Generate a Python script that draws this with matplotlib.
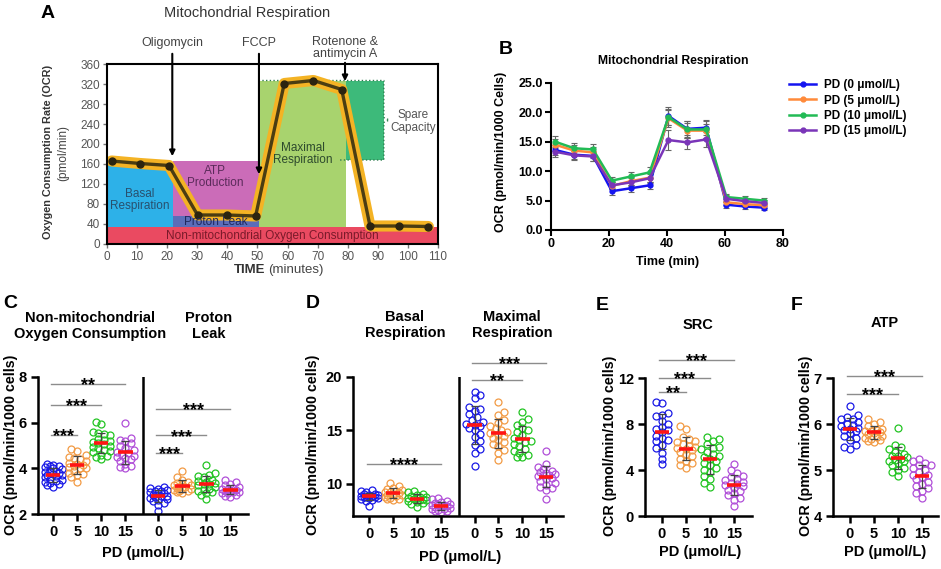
import numpy as np
import matplotlib
matplotlib.use('Agg')
import matplotlib.pyplot as plt
from matplotlib.patches import Rectangle

plt.rcParams['font.family'] = ['Liberation Sans', 'DejaVu Sans']

W, H = 941, 569
fig = plt.figure(figsize=(W / 100, H / 100), dpi=100)

# ---------------- data ----------------
# Panel A (schematic trace)
a_time = [1.5, 11, 20.6, 30.1, 39.8, 49.4, 58.9, 68.6, 78, 87.4, 97.1, 106.8]
a_ocr = [166, 161, 157, 58, 58, 56, 321, 327, 309, 36, 36, 35]

# Panel B
b_time = [1.5, 8, 14.5, 21, 27.5, 34, 40.5, 47, 53.5, 60.5, 67, 73.5]
b_labels = ['PD (0 μmol/L)', 'PD (5 μmol/L)', 'PD (10 μmol/L)', 'PD (15 μmol/L)']
b_pd0 = [13.6, 12.8, 12.6, 6.6, 7.1, 7.6, 19.4, 17.2, 17.4, 4.3, 4.0, 3.8]
b_pd5 = [14.5, 13.5, 13.2, 7.5, 8.3, 8.9, 19.0, 16.9, 16.9, 4.7, 4.4, 4.2]
b_pd10 = [15.0, 13.9, 13.7, 8.4, 9.1, 9.8, 19.2, 17.1, 17.1, 5.6, 5.3, 5.0]
b_pd15 = [13.3, 12.7, 12.5, 7.6, 8.1, 8.8, 15.3, 14.9, 15.4, 5.3, 4.9, 4.6]
b_err0 = [0.9, 0.8, 0.8, 0.6, 0.6, 0.6, 1.5, 1.3, 1.3, 0.5, 0.4, 0.4]
b_err5 = [1.0, 0.9, 0.9, 0.6, 0.7, 0.8, 1.4, 1.3, 1.2, 0.5, 0.4, 0.4]
b_err10 = [1.0, 0.9, 0.9, 0.6, 0.8, 0.9, 1.4, 1.4, 1.5, 0.6, 0.5, 0.5]
b_err15 = [0.9, 0.8, 0.8, 0.6, 0.7, 0.8, 1.7, 1.2, 1.3, 0.6, 0.5, 0.5]

dose_labels = ['0', '5', '10', '15']

# Panel C
c_nonmito_0 = [4.2, 4.15, 4.1, 4.1, 4.05, 4.0, 3.95, 3.9, 3.85, 3.8, 3.75, 3.7, 3.65, 3.6, 3.55, 3.5, 3.45, 3.4, 3.35, 3.3, 3.25, 3.2, 3.9, 3.7]
c_nonmito_5 = [4.85, 4.75, 4.6, 4.5, 4.4, 4.3, 4.25, 4.2, 4.15, 4.1, 4.05, 4.0, 3.9, 3.8, 3.75, 3.7, 3.6, 3.4, 4.45, 4.0]
c_nonmito_10 = [6.05, 5.95, 5.6, 5.5, 5.45, 5.3, 5.2, 5.15, 5.1, 5.05, 5.0, 4.95, 4.9, 4.8, 4.75, 4.7, 4.6, 4.55, 4.5, 4.4, 5.25, 5.55]
c_nonmito_15 = [6.0, 5.35, 5.25, 5.2, 5.0, 4.9, 4.8, 4.7, 4.65, 4.55, 4.5, 4.45, 4.4, 4.3, 4.2, 4.1, 4.05, 4.0, 4.6, 5.1]
c_leak_0 = [3.2, 3.15, 3.1, 3.05, 3.0, 2.95, 2.9, 2.9, 2.85, 2.8, 2.8, 2.75, 2.7, 2.65, 2.6, 2.55, 2.5, 2.4, 2.15, 3.0]
c_leak_5 = [3.9, 3.6, 3.5, 3.4, 3.35, 3.3, 3.25, 3.2, 3.2, 3.15, 3.1, 3.05, 3.0, 3.0, 2.95, 2.9, 3.1, 3.25]
c_leak_10 = [4.15, 3.8, 3.7, 3.65, 3.6, 3.5, 3.4, 3.35, 3.3, 3.25, 3.2, 3.1, 3.05, 3.0, 2.95, 2.9, 2.85, 2.65, 3.45, 3.3]
c_leak_15 = [3.5, 3.4, 3.3, 3.2, 3.15, 3.1, 3.05, 3.0, 3.0, 2.95, 2.9, 2.85, 2.8, 2.75, 3.1, 2.95, 3.25, 2.9]
c_sig = [(0, 1, 5.47, '***'), (0, 2, 6.76, '***'), (0, 3, 7.7, '**'),
         (4.37, 5.37, 4.69, '***'), (4.37, 6.37, 5.44, '***'), (4.37, 7.37, 6.61, '***')]

# Panel D
d_basal_0 = [9.4, 9.3, 9.2, 9.1, 9.0, 8.95, 8.9, 8.85, 8.8, 8.75, 8.7, 8.65, 8.6, 8.5, 8.4, 7.9, 9.05, 8.8]
d_basal_5 = [10.1, 9.8, 9.6, 9.5, 9.4, 9.3, 9.2, 9.15, 9.1, 9.0, 8.9, 8.8, 8.7, 8.6, 8.55, 8.5, 9.25, 9.0]
d_basal_10 = [9.3, 9.2, 9.1, 9.0, 8.9, 8.8, 8.7, 8.65, 8.6, 8.5, 8.45, 8.4, 8.3, 8.2, 8.1, 7.8, 8.6, 8.75]
d_basal_15 = [8.7, 8.55, 8.4, 8.3, 8.2, 8.1, 8.05, 8.0, 7.95, 7.9, 7.8, 7.75, 7.7, 7.65, 7.6, 7.5, 7.45, 7.4, 8.0]
d_max_0 = [18.6, 18.3, 18.0, 17.2, 17.0, 16.8, 16.3, 16.0, 15.8, 15.6, 15.4, 15.2, 15.0, 14.7, 14.4, 14.0, 13.6, 13.3, 12.9, 11.7, 16.5, 15.5]
d_max_5 = [17.7, 16.7, 16.4, 16.0, 15.7, 15.4, 15.2, 15.0, 14.8, 14.6, 14.5, 14.3, 14.1, 13.9, 13.7, 13.5, 13.2, 12.9, 12.2, 14.9]
d_max_10 = [16.7, 16.1, 15.8, 15.5, 15.2, 14.9, 14.6, 14.3, 14.1, 13.9, 13.7, 13.5, 13.3, 13.1, 12.9, 12.7, 12.5, 12.5, 14.0, 15.0]
d_max_15 = [13.1, 11.9, 11.6, 11.4, 11.2, 11.0, 10.9, 10.8, 10.7, 10.6, 10.5, 10.3, 10.1, 9.9, 9.7, 9.6, 9.4, 8.6, 10.8, 11.1]
d_sig = [(0, 3, 11.88, '****'), (4.4, 6.4, 19.69, '**'), (4.4, 7.4, 21.35, '***')]

# Panel E (SRC)
e_src_0 = [9.9, 9.8, 9.0, 8.8, 8.7, 8.3, 8.0, 7.7, 7.5, 7.3, 7.0, 6.8, 6.6, 6.5, 6.2, 5.9, 5.5, 5.0, 4.5, 7.6]
e_src_5 = [7.8, 7.6, 6.9, 6.7, 6.5, 6.3, 6.1, 6.0, 5.9, 5.8, 5.6, 5.4, 5.2, 5.0, 4.8, 4.6, 4.4, 4.2, 5.7, 6.4]
e_src_10 = [6.9, 6.7, 6.5, 6.3, 6.0, 5.8, 5.6, 5.4, 5.2, 5.0, 4.8, 4.6, 4.4, 4.2, 4.0, 3.8, 3.5, 3.2, 2.9, 2.5, 5.1, 5.9]
e_src_15 = [4.5, 4.0, 3.7, 3.5, 3.4, 3.2, 3.1, 3.0, 2.9, 2.7, 2.6, 2.4, 2.3, 2.2, 2.0, 1.8, 1.6, 1.4, 0.9, 2.8]
e_sig = [(0, 1, 10.78, '**'), (0, 2, 12.0, '***'), (0, 3, 13.6, '***')]

# Panel F (ATP)
f_atp_0 = [6.4, 6.2, 6.15, 6.1, 6.05, 6.0, 5.98, 5.95, 5.92, 5.9, 5.88, 5.85, 5.8, 5.75, 5.7, 5.65, 5.55, 5.5, 5.45, 6.1]
f_atp_5 = [6.1, 6.05, 6.0, 5.95, 5.9, 5.88, 5.85, 5.82, 5.8, 5.78, 5.75, 5.72, 5.7, 5.68, 5.65, 5.62, 5.6, 5.85]
f_atp_10 = [5.92, 5.55, 5.5, 5.45, 5.4, 5.35, 5.3, 5.28, 5.25, 5.22, 5.2, 5.15, 5.1, 5.05, 5.0, 4.95, 4.88, 5.3, 5.2]
f_atp_15 = [5.25, 5.2, 5.15, 5.1, 5.05, 5.0, 4.95, 4.9, 4.85, 4.8, 4.75, 4.7, 4.65, 4.6, 4.55, 4.5, 4.4, 4.9, 5.1]
f_sig = [(0, 2, 6.65, '***'), (0, 3, 7.05, '***')]

line_colors = ['#1414f0', '#ff8a3a', '#22bb55', '#7a35b8']
dot_colors = ['#1a1ae6', '#f29b45', '#22c422', '#b04fd8']


# ---------------- helpers ----------------
def add_ax(l, t, r, b):
    return fig.add_axes([l / W, 1 - b / H, (r - l) / W, (b - t) / H])


def ftext(x, y, s, **kw):
    kw.setdefault('ha', 'center')
    kw.setdefault('va', 'center')
    return fig.text(x / W, 1 - y / H, s, **kw)


def swarm(vals, ax, d=6.4, maxoff=9.5):
    bb = ax.get_position()
    wpx, hpx = bb.width * W, bb.height * H
    xl, yl = ax.get_xlim(), ax.get_ylim()
    sx = wpx / (xl[1] - xl[0])
    sy = hpx / (yl[1] - yl[0])
    vals = np.asarray(vals, float)
    order = np.argsort(vals)
    placed = []
    offs = np.zeros(len(vals))
    step = d * 0.45
    for n, i in enumerate(order):
        y = vals[i] * sy
        cands = [0.0]
        for k in range(1, 8):
            s = 1 if n % 2 == 0 else -1
            cands += [s * k * step, -s * k * step]
        cands = [c for c in cands if abs(c) <= maxoff]
        chosen = None
        for c in cands:
            if all((c - px) ** 2 + (y - py) ** 2 >= (d * 0.85) ** 2 for px, py in placed):
                chosen = c
                break
        if chosen is None:
            best = -1
            for c in cands:
                md = min(((c - px) ** 2 + (y - py) ** 2) for px, py in placed)
                if md > best:
                    best, chosen = md, c
        placed.append((chosen, y))
        offs[i] = chosen / sx
    return offs


def style_dot_axes(ax, xt, xl, yt):
    for s in ['top', 'right']:
        ax.spines[s].set_visible(False)
    for s in ['left', 'bottom']:
        ax.spines[s].set_linewidth(1.8)
    ax.set_xticks(xt)
    ax.set_xticklabels(xl, fontsize=10.5, fontweight='bold')
    ax.set_yticks(yt)
    ax.set_yticklabels([str(v) for v in yt], fontsize=10.5, fontweight='bold')
    ax.tick_params(direction='out', length=5, width=1.8, pad=3)


def draw_groups(ax, positions, groups):
    for pos, vals, col in zip(positions, groups, dot_colors * 2):
        offs = swarm(vals, ax)
        ax.plot(pos + offs, vals, 'o', mfc='none', mec=col, ms=5, mew=0.9,
                zorder=2, clip_on=False)
        m = np.mean(vals)
        sd = np.std(vals, ddof=1)
        ax.errorbar(pos, m, yerr=sd, fmt='none', ecolor='#444444', elinewidth=0.9,
                    capsize=3, capthick=0.9, zorder=3)
        ax.plot([pos - 0.3, pos + 0.3], [m, m], color='#ff1414', lw=2.6,
                zorder=4, solid_capstyle='butt')


def draw_sig(ax, sigs):
    for x0, x1, y, txt in sigs:
        ax.plot([x0 - 0.1, x1], [y, y], color='#8c8c8c', lw=1, clip_on=False)
        ax.annotate(txt, xy=((x0 + x1) / 2 - 0.05, y), xytext=(0, -4.5),
                    textcoords='offset points', ha='center', va='baseline',
                    fontsize=13, fontweight='bold', annotation_clip=False)


# ---------------- Panel A ----------------
axA = add_ax(107, 64, 438, 244)
axA.set_xlim(0, 110)
axA.set_ylim(0, 360)
axA.add_patch(Rectangle((0, 0), 110, 35, color='#ea4a61', lw=0, zorder=1))
axA.add_patch(Rectangle((0, 35), 21.8, 128, color='#2db1e8', lw=0, zorder=1))
axA.add_patch(Rectangle((21.8, 57), 28.6, 109, color='#cb6cb8', lw=0, zorder=1))
axA.add_patch(Rectangle((21.8, 35), 28.6, 22, color='#5b6db9', lw=0, zorder=1))
axA.add_patch(Rectangle((50.4, 35), 28.9, 292, color='#a8d36e', lw=0, zorder=1))
axA.add_patch(Rectangle((79.3, 168), 12.7, 159, color='#3dba7a', lw=0, zorder=1))
axA.plot([50.4, 92, 92, 93.8, 92, 92, 77], [327, 327, 253, 248, 243, 168, 168],
         color='#2f7d4f', lw=1, ls=':', zorder=2)
axA.plot(a_time, a_ocr, color='#f4b324', lw=8, solid_joinstyle='round',
         solid_capstyle='round', zorder=5)
axA.plot(a_time, a_ocr, color='#4b3d12', lw=2.4, marker='o', ms=5,
         mfc='#2b2410', mec='#2b2410', zorder=6)
tA = dict(fontsize=8.5, ha='center', va='center', zorder=7, linespacing=1.1)
axA.text(11, 88, 'Basal\nRespiration', color='#28506e', **tA)
axA.text(36, 134, 'ATP\nProduction', color='#5a2a5a', **tA)
axA.text(36, 44, 'Proton Leak', color='#20285e', **tA)
axA.text(55, 17, 'Non-mitochondrial Oxygen Consumption', color='#7a1a2a', **tA)
axA.text(65, 180, 'Maximal\nRespiration', color='#2d4a2d', **tA)
axA.text(101.7, 245, 'Spare\nCapacity', color='#555555', **tA)
for x, ytip, ystart in [(21.7, 170, 386), (50.5, 134, 386), (79.1, 320, 368)]:
    axA.annotate('', xy=(x, ytip), xytext=(x, ystart),
                 arrowprops=dict(arrowstyle='-|>', color='black', lw=1.5, mutation_scale=8),
                 annotation_clip=False, zorder=8)
axA.text(21.7, 402, 'Oligomycin', fontsize=9, color='#444444', ha='center', va='center')
axA.text(50.5, 402, 'FCCP', fontsize=9, color='#444444', ha='center', va='center')
axA.text(79.1, 392, 'Rotenone &\nantimycin A', fontsize=9, color='#444444',
         ha='center', va='center', linespacing=0.9)
axA.set_xticks(range(0, 111, 10))
axA.set_yticks(range(0, 361, 40))
axA.tick_params(direction='out', length=3, width=1, color='#777777',
                labelcolor='#555555', labelsize=8.5, pad=2)
for s in axA.spines.values():
    s.set_linewidth(1.5)
    s.set_zorder(9)
ftext(48, 152, 'Oxygen Consumption Rate (OCR)', rotation=90, fontsize=7.8,
      fontweight='bold', color='#333333')
ftext(63, 153, '(pmol/min)', rotation=90, fontsize=8.5, color='#444444')
ftext(265, 270, 'TIME', ha='right', fontsize=9.5, fontweight='bold', color='#333333')
ftext(268, 270, '(minutes)', ha='left', fontsize=9.5, color='#444444')
ftext(247, 13, 'Mitochondrial Respiration', fontsize=10.5, color='#333333')
ftext(48, 14, 'A', fontsize=14, fontweight='bold')

# ---------------- Panel B ----------------
axB = add_ax(551, 83, 783, 230)
b_series = [b_pd0, b_pd5, b_pd10, b_pd15]
b_errs = [b_err0, b_err5, b_err10, b_err15]
for vals, err, col, lab in zip(b_series, b_errs, line_colors, b_labels):
    axB.errorbar(b_time, vals, yerr=err, fmt='none', ecolor='#666666',
                 elinewidth=0.8, capsize=2.2, capthick=0.8, zorder=2)
    axB.plot(b_time, vals, color=col, lw=1.8, marker='o', ms=3.5, label=lab, zorder=3)
axB.set_xlim(0, 80)
axB.set_ylim(0, 25)
axB.set_xticks([0, 20, 40, 60, 80])
axB.set_xticklabels(['0', '20', '40', '60', '80'], fontsize=9, fontweight='bold')
axB.set_yticks([0, 5, 10, 15, 20, 25])
axB.set_yticklabels(['0.0', '5.0', '10.0', '15.0', '20.0', '25.0'], fontsize=9, fontweight='bold')
for s in ['top', 'right']:
    axB.spines[s].set_visible(False)
for s in ['left', 'bottom']:
    axB.spines[s].set_linewidth(1.5)
axB.tick_params(direction='out', length=4, width=1.5, pad=2)
leg = fig.legend(*axB.get_legend_handles_labels(), loc='upper left',
                 bbox_to_anchor=(781 / W, 1 - 71 / H), frameon=False,
                 prop={'size': 8.5, 'weight': 'bold'}, handlelength=2.3,
                 handletextpad=0.6, labelspacing=0.28, borderpad=0.2)
ftext(501, 152, 'OCR (pmol/min/1000 Cells)', rotation=90, fontsize=9, fontweight='bold')
ftext(668, 262, 'Time (min)', fontsize=9, fontweight='bold')
ftext(673, 61, 'Mitochondrial Respiration', fontsize=8.7, fontweight='bold')
ftext(506, 50, 'B', fontsize=14, fontweight='bold')

# ---------------- Panel C ----------------
axC = add_ax(38, 377, 248, 514)
axC.set_xlim(-0.63, 8.1)
axC.set_ylim(2, 8)
posC = [0, 1, 2, 3, 4.37, 5.37, 6.37, 7.37]
style_dot_axes(axC, posC, dose_labels * 2, [2, 4, 6, 8])
axC.axvline(3.72, color='black', lw=1.8)
draw_groups(axC, posC, [c_nonmito_0, c_nonmito_5, c_nonmito_10, c_nonmito_15,
                        c_leak_0, c_leak_5, c_leak_10, c_leak_15])
draw_sig(axC, c_sig)
ftext(11, 445, 'OCR (pmol/min/1000 cells)', rotation=90, fontsize=10.3, fontweight='bold')
ftext(143, 553, 'PD (μmol/L)', fontsize=10.5, fontweight='bold')
ftext(90, 326, 'Non-mitochondrial\nOxygen Consumption', fontsize=10.5, fontweight='bold')
ftext(209, 326, 'Proton\nLeak', fontsize=10.5, fontweight='bold')
ftext(10, 303, 'C', fontsize=14, fontweight='bold')

# ---------------- Panel D ----------------
axD = add_ax(353, 377, 563, 516)
axD.set_xlim(-0.68, 8.1)
axD.set_ylim(7, 20)
posD = [0, 1, 2, 3, 4.4, 5.4, 6.4, 7.4]
style_dot_axes(axD, posD, dose_labels * 2, [10, 15, 20])
axD.axvline(3.75, color='black', lw=1.8)
draw_groups(axD, posD, [d_basal_0, d_basal_5, d_basal_10, d_basal_15,
                        d_max_0, d_max_5, d_max_10, d_max_15])
draw_sig(axD, d_sig)
ftext(313, 445, 'OCR (pmol/min/1000 cells)', rotation=90, fontsize=10.3, fontweight='bold')
ftext(460, 557, 'PD (μmol/L)', fontsize=10.5, fontweight='bold')
ftext(405, 325, 'Basal\nRespiration', fontsize=10.5, fontweight='bold')
ftext(512, 325, 'Maximal\nRespiration', fontsize=10.5, fontweight='bold')
ftext(313, 303, 'D', fontsize=14, fontweight='bold')

# ---------------- Panel E ----------------
axE = add_ax(645, 378, 752, 516)
axE.set_xlim(-0.7, 3.75)
axE.set_ylim(0, 12)
style_dot_axes(axE, [0, 1, 2, 3], dose_labels, [0, 4, 8, 12])
draw_groups(axE, [0, 1, 2, 3], [e_src_0, e_src_5, e_src_10, e_src_15])
draw_sig(axE, e_sig)
ftext(610, 446, 'OCR (pmol/min/1000 cells)', rotation=90, fontsize=10.3, fontweight='bold')
ftext(700, 552, 'PD (μmol/L)', fontsize=10.5, fontweight='bold')
ftext(698, 325, 'SRC', fontsize=10.5, fontweight='bold')
ftext(602, 305, 'E', fontsize=14, fontweight='bold')

# ---------------- Panel F ----------------
axF = add_ax(833, 378, 938, 516)
axF.set_xlim(-0.7, 3.67)
axF.set_ylim(4, 7)
style_dot_axes(axF, [0, 1, 2, 3], dose_labels, [4, 5, 6, 7])
draw_groups(axF, [0, 1, 2, 3], [f_atp_0, f_atp_5, f_atp_10, f_atp_15])
draw_sig(axF, f_sig)
ftext(806, 446, 'OCR (pmol/min/1000 cells)', rotation=90, fontsize=10.3, fontweight='bold')
ftext(885, 552, 'PD (μmol/L)', fontsize=10.5, fontweight='bold')
ftext(885, 323, 'ATP', fontsize=10.5, fontweight='bold')
ftext(797, 305, 'F', fontsize=14, fontweight='bold')

fig.savefig('out.png', dpi=100)
